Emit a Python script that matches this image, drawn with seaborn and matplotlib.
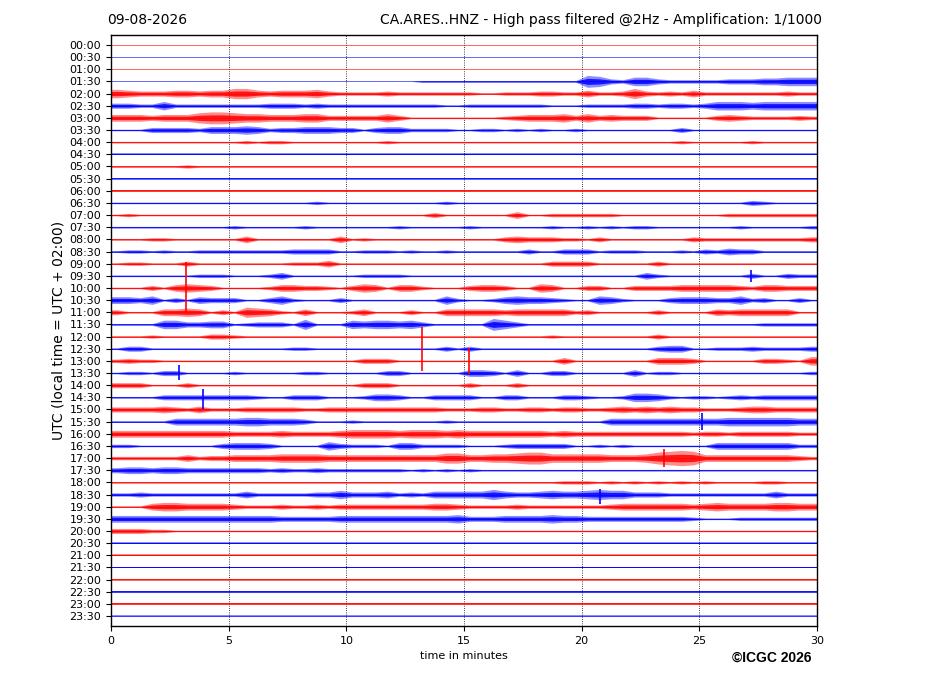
import numpy as np
import pandas as pd
import matplotlib
matplotlib.use("Agg")
import matplotlib.pyplot as plt
import seaborn as sns

# helicorder rows, one every 30 min
row_labels = ["00:00", "00:30", "01:00", "01:30", "02:00", "02:30", "03:00", "03:30",
              "04:00", "04:30", "05:00", "05:30", "06:00", "06:30", "07:00", "07:30",
              "08:00", "08:30", "09:00", "09:30", "10:00", "10:30", "11:00", "11:30",
              "12:00", "12:30", "13:00", "13:30", "14:00", "14:30", "15:00", "15:30",
              "16:00", "16:30", "17:00", "17:30", "18:00", "18:30", "19:00", "19:30",
              "20:00", "20:30", "21:00", "21:30", "22:00", "22:30", "23:00", "23:30"]

# trace envelope per half minute (60 per row), base-36 digits
envelopes = [
    "0000000000 0000000000 0000000000 0000000000 0000000000 0000000000",
    "0000000000 0000000000 0000000000 0000000000 0000000000 0000000000",
    "0000000000 0000000000 0000000000 0000000000 0000000000 0000000000",
    "0000000000 0000000000 0000001111 1111111111 7632553222 2233344555",
    "5433344344 6643444532 2223222222 2112223322 4223632324 2222222322",
    "3322522222 2223332322 2222222211 2222222111 2222332332 3555455555",
    "4443444677 6554445533 3335311111 1112344453 5343331111 1343222232",
    "1113333244 4542334443 3134422221 1221212112 1111111131 1111111111",
    "1111111111 1212211111 1112111111 1111111111 1111111121 1111211111",
    "1111111111 1111111111 1111111111 1111111111 1111111111 1111111111",
    "1111112111 1111111111 1111111111 1111111111 1111111111 1111111111",
    "1111111111 1111111111 1111111111 1111111111 1111111111 1111111111",
    "1111111111 1111111111 1111111111 1111111111 1111111111 1111111111",
    "1111111111 1111111211 1111111121 1111111111 1111111111 1111321111",
    "1211111111 1111111111 1111111311 1111411222 2221111111 1122222222",
    "1111111111 2111112111 1111211111 2111111211 2121221111 1112111112",
    "1112211111 1411111114 1211111111 1113433322 1311111113 2222222223",
    "1221211222 2222233331 1222121121 1111131133 3122211121 3243311111",
    "1221113111 1111122241 1111111111 1111111333 3111113111 1111111111",
    "1111111222 1112411111 1222211111 1111111111 1111142111 1111311322",
    "1113145431 1112443321 3541442111 3443115411 3311333344 4443244333",
    "4435131433 3113521113 1111111152 1124544321 1542111344 4335231131",
    "3111445413 1654214111 2411131144 4443444442 3111113111 1434444411",
    "1111553344 1233316111 5455453111 1175311111 1111111111 1111122222",
    "1112111133 2111111111 1111111111 1111111211 1111113111 1111111111",
    "1331111111 1111122111 1111111131 3111111111 1111113441 1222322223",
    "2322111111 1111111111 1333111111 1111111141 1111114443 1111133215",
    "1221331111 2111112211 1113311111 4431411331 1111412211 1111111112",
    "3331113111 1111111111 1333111111 3111311111 1111111111 1111111111",
    "1111333333 3321133311 1244311333 3113311133 2112554212 2123233333",
    "3333432422 2333332233 3333333322 2332233233 2234343433 2223443333",
    "1111144444 4554443111 2111111121 1111111111 1144444444 4455555544",
    "4444444444 3333433334 5555455545 4444444343 3333333332 3323333322",
    "2211111113 4443111153 2221442222 1112333331 1212111111 1444444422",
    "2222224233 4444555544 4444444466 4455677555 5544457898 4444444432",
    "3443443333 3332322322 2222212121 2111111111 1111111111 1111111111",
    "1111111111 1111111111 1111111111 1111111122 2121212121 2111122111",
    "2232222222 2422222335 3334232444 4464334544 5655333222 2222224222",
    "1114554444 3222322323 3333333443 2222322222 2234444443 4544445544",
    "4444444444 4444333334 4444444445 3334444544 3333333332 1112222222",
    "3332211111 1111111111 1111111111 1111111111 1111111111 1111111111",
    "1111111111 1111111111 1111111111 1111111111 1111111111 1111111111",
    "1111111111 1111111111 1111111111 1111111111 1111111111 1111111111",
    "1111111111 1111111111 1111111111 1111111111 1111111111 1111111111",
    "1111111111 1111111111 1111111111 1111111111 1111111111 1111111111",
    "1111111111 1111111111 1111111111 1111111111 1111111111 1111111111",
    "1111111111 1111111111 1111111111 1111111111 1111111111 1111111111",
    "1111111111 1111111111 1111111111 1111111111 1111111111 1111111111",
]

# isolated spikes: row, minute, amplitude up / down (same units as envelopes)
spike_rows = [20, 26, 26, 27, 29, 19, 31, 37, 34]
spike_minutes = [3.2, 13.2, 15.2, 2.9, 3.9, 27.2, 25.1, 20.8, 23.5]
spike_up = [31, 40, 15, 10, 10, 7, 10, 7, 11]
spike_down = [29, 12, 15, 8, 14, 7, 10, 11, 11]

unit = 0.07  # one envelope step in trace spacings
trace_colors = {"red": "#ff0000", "blue": "#0000ff"}

sns.set_style("ticks", {"axes.edgecolor": "black", "text.color": "black",
                        "xtick.color": "black", "ytick.color": "black",
                        "axes.labelcolor": "black"})
plt.rcParams["font.family"] = ["DejaVu Sans"]

fig = plt.figure(figsize=(9.27, 6.96), dpi=100)
ax = fig.add_axes([111 / 927, 1 - 626 / 696, 706 / 927, 591 / 696])

centers = np.concatenate([[0], (np.arange(60) + 0.5) / 2, [30]])
colours = ["red" if lab.endswith(":00") else "blue" for lab in row_labels]

base = pd.DataFrame({
    "minute": np.tile([0, 30], len(row_labels)),
    "row": np.repeat(np.arange(len(row_labels)), 2),
    "colour": np.repeat(colours, 2),
})
sns.lineplot(data=base, x="minute", y="row", hue="colour", units="row",
             estimator=None, palette=trace_colors, legend=False, lw=0.7,
             alpha=0.6, ax=ax)

for r, s in enumerate(envelopes):
    env = np.array([int(c, 36) for c in s.replace(" ", "")]) * unit
    env = np.concatenate([[env[0]], env, [env[-1]]])
    col = trace_colors[colours[r]]
    # outer halo and denser core, like the overlapping wiggles of a real trace
    ax.fill_between(centers, r - env, r + env, lw=0, color=col, alpha=0.45)
    ax.fill_between(centers, r - 0.5 * env, r + 0.5 * env, lw=0, color=col, alpha=0.85)

for r, m, up, dn in zip(spike_rows, spike_minutes, spike_up, spike_down):
    ax.vlines(m, r - up * unit, r + dn * unit, color=trace_colors[colours[r]],
              lw=1.3, alpha=0.9)

ax.set_xlim(0, 30)
ax.set_ylim(len(row_labels) - 1 + 0.82, -0.82)
ax.set_yticks(np.arange(len(row_labels)))
ax.set_yticklabels(row_labels, fontsize=8)
ax.set_xticks(np.arange(0, 31, 5))
ax.tick_params(axis="x", labelsize=8)
ax.grid(axis="x", color="black", linestyle=":", linewidth=0.6)
ax.set_axisbelow(True)
for sp in ax.spines.values():
    sp.set_visible(True)
    sp.set_linewidth(1.0)

ax.set_xlabel("time in minutes", fontsize=8)
ax.set_ylabel("UTC (local time = UTC + 02:00)", fontsize=10, labelpad=3)

fig.text(107 / 927, 1 - 20 / 696, "09-08-2026", fontsize=10, va="center", ha="left")
fig.text(822 / 927, 1 - 20 / 696,
         "CA.ARES..HNZ - High pass filtered @2Hz - Amplification: 1/1000",
         fontsize=10, va="center", ha="right")
fig.text(811 / 927, 1 - 658 / 696, "\u00a9ICGC 2026", fontsize=10, weight="bold",
         family="Liberation Sans", va="center", ha="right")

fig.savefig("out.png", dpi=100)
